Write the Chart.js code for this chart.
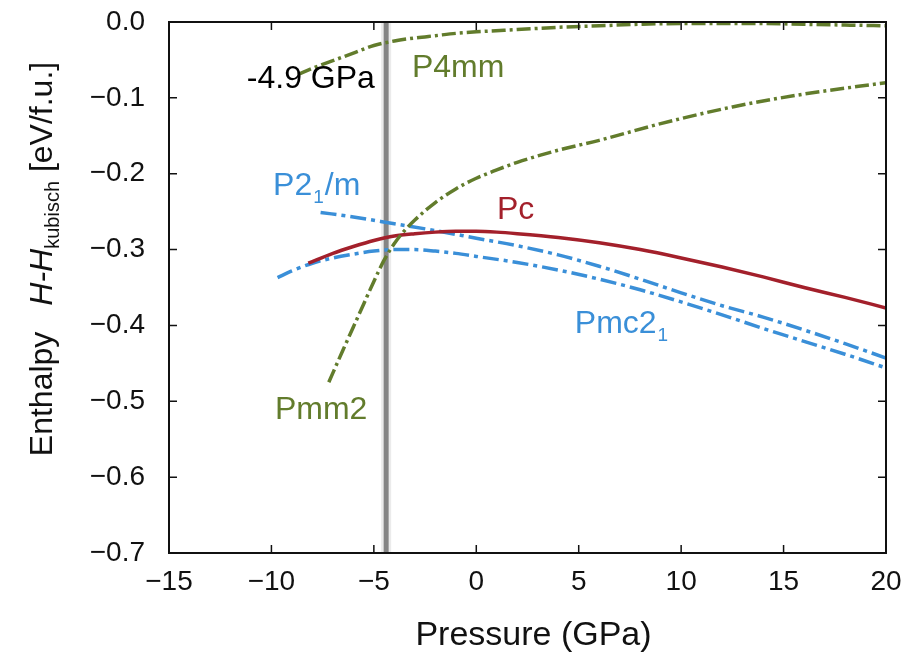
<!DOCTYPE html>
<html>
<head>
<meta charset="utf-8">
<script src="https://cdn.jsdelivr.net/npm/chart.js@4"></script>
<style>
  body { margin: 0; background: #fff; }
</style>
</head>
<body>
<canvas id="chart" width="920" height="655"></canvas>
<script>
// pressure (GPa) and enthalpy difference (eV/f.u.) per phase
const p4mmP = [-8.7, -8, -7, -6, -5, -4, -3, -2, -1, 0, 2, 4, 6, 8, 10, 12, 14, 16, 18, 20];
const p4mmH = [-0.069, -0.061, -0.051, -0.041, -0.031, -0.025, -0.021, -0.018, -0.015, -0.013, -0.010, -0.007, -0.005, -0.003, -0.002, -0.002, -0.002, -0.003, -0.004, -0.005];

const pmm2P = [-7.2, -6.5, -6, -5.5, -5, -4.5, -4, -3.5, -3, -2, -1, 0, 1, 2, 4, 6, 9, 12.5, 16, 20];
const pmm2H = [-0.475, -0.432, -0.402, -0.372, -0.342, -0.314, -0.292, -0.275, -0.261, -0.238, -0.220, -0.206, -0.195, -0.185, -0.169, -0.156, -0.134, -0.112, -0.095, -0.080];

const pcP = [-8.2, -7, -6, -5, -4, -3, -2, -1, 0, 1, 2, 4, 6, 8, 10, 12, 14, 16, 18, 20];
const pcH = [-0.318, -0.305, -0.296, -0.288, -0.282, -0.279, -0.277, -0.276, -0.276, -0.277, -0.279, -0.284, -0.291, -0.300, -0.311, -0.323, -0.336, -0.350, -0.363, -0.377];

const p21mP = [-7.6, -6, -4, -2, 0, 2, 4, 6, 8, 10, 12, 14, 16, 18, 20];
const p21mH = [-0.251, -0.257, -0.266, -0.275, -0.285, -0.295, -0.307, -0.322, -0.339, -0.357, -0.374, -0.389, -0.406, -0.424, -0.443];

const pmc21P = [-9.7, -9, -8, -7, -6, -5, -4, -3, -2, -1, 0, 2, 4, 6, 8, 10, 12, 14, 16, 18, 20];
const pmc21H = [-0.337, -0.328, -0.318, -0.311, -0.306, -0.302, -0.300, -0.300, -0.302, -0.305, -0.309, -0.317, -0.327, -0.339, -0.353, -0.369, -0.386, -0.404, -0.421, -0.438, -0.456];

const transitionP = -4.4;
const xTicks = [-15, -10, -5, 0, 5, 10, 15, 20];
const yTicks = [0, -0.1, -0.2, -0.3, -0.4, -0.5, -0.6, -0.7];

const GREEN = '#627c2c';
const BLUE = '#3a8fd8';
const RED = '#a3202b';

function pts(xs, ys) {
  return xs.map((x, i) => ({ x: x, y: ys[i] }));
}

function series(label, xs, ys, color, dash) {
  return {
    label: label,
    data: pts(xs, ys),
    borderColor: color,
    borderWidth: 3.5,
    borderDash: dash,
    pointRadius: 0,
    showLine: true,
    fill: false,
    cubicInterpolationMode: 'monotone'
  };
}

// text labels: [text, sub, after, x, y, color, align]
const labels = [
  ['-4.9 GPa', '', '', -4.95, -0.0868, '#000', 'right'],
  ['P4mm', '', '', -3.14, -0.0722, GREEN, 'left'],
  ['P2', '1', '/m', -9.92, -0.2285, BLUE, 'left'],
  ['Pc', '', '', 1.01, -0.2603, RED, 'left'],
  ['Pmc2', '1', '', 4.81, -0.410, BLUE, 'left'],
  ['Pmm2', '', '', -9.83, -0.524, GREEN, 'left']
];

const FONT = '"Liberation Sans", Arial, Helvetica, sans-serif';

const framePlugin = {
  id: 'frame',
  beforeDatasetsDraw(chart) {
    const ctx = chart.ctx;
    const a = chart.chartArea;
    const xs = chart.scales.x;
    const px = xs.getPixelForValue(transitionP);
    ctx.save();
    ctx.strokeStyle = 'rgba(0,0,0,0.08)';
    ctx.lineWidth = 10;
    ctx.beginPath();
    ctx.moveTo(px, a.top);
    ctx.lineTo(px, a.bottom);
    ctx.stroke();
    ctx.strokeStyle = '#858585';
    ctx.lineWidth = 5;
    ctx.beginPath();
    ctx.moveTo(px, a.top);
    ctx.lineTo(px, a.bottom);
    ctx.stroke();
    ctx.restore();
  },
  afterDatasetsDraw(chart) {
    const ctx = chart.ctx;
    const a = chart.chartArea;
    const xs = chart.scales.x;
    const ys = chart.scales.y;
    ctx.save();
    // frame
    ctx.strokeStyle = '#111';
    ctx.lineWidth = 2;
    ctx.strokeRect(a.left, a.top, a.right - a.left, a.bottom - a.top);
    // inward ticks on all sides
    ctx.lineWidth = 1.5;
    ctx.beginPath();
    xTicks.forEach(v => {
      const p = xs.getPixelForValue(v);
      ctx.moveTo(p, a.bottom); ctx.lineTo(p, a.bottom - 8);
      ctx.moveTo(p, a.top); ctx.lineTo(p, a.top + 8);
    });
    yTicks.forEach(v => {
      const p = ys.getPixelForValue(v);
      ctx.moveTo(a.left, p); ctx.lineTo(a.left + 8, p);
      ctx.moveTo(a.right, p); ctx.lineTo(a.right - 8, p);
    });
    ctx.stroke();

    // curve labels
    ctx.textBaseline = 'alphabetic';
    labels.forEach(l => {
      const [text, sub, after, x, y, color, align] = l;
      let px = xs.getPixelForValue(x);
      const py = ys.getPixelForValue(y);
      ctx.fillStyle = color;
      ctx.font = '32px ' + FONT;
      ctx.textAlign = align;
      ctx.fillText(text, px, py);
      if (sub) {
        ctx.textAlign = 'left';
        px += ctx.measureText(text).width;
        ctx.font = '19px ' + FONT;
        ctx.fillText(sub, px + 1, py + 8);
        px += ctx.measureText(sub).width + 2;
        ctx.font = '32px ' + FONT;
        if (after) ctx.fillText(after, px, py);
      }
    });

    // x title
    ctx.fillStyle = '#111';
    ctx.font = '34px ' + FONT;
    ctx.textAlign = 'center';
    ctx.fillText('Pressure (GPa)', (a.left + a.right) / 2 + 6, 645);

    // y title (rotated, italic H and subscript)
    ctx.translate(52, 259);
    ctx.rotate(-Math.PI / 2);
    const parts = [
      ['Enthalpy', '32px ' + FONT, 0, 0],
      ['', '32px ' + FONT, 0, 26],
      ['H-H', 'italic 32px ' + FONT, 0, 0],
      ['kubisch', '20px ' + FONT, 7, 0],
      [' [eV/f.u.]', '32px ' + FONT, 0, 0]
    ];
    let total = 0;
    parts.forEach(p => { ctx.font = p[1]; total += ctx.measureText(p[0]).width + p[3]; });
    let cx = -total / 2;
    ctx.textAlign = 'left';
    parts.forEach(p => {
      ctx.font = p[1];
      ctx.fillText(p[0], cx, p[2]);
      cx += ctx.measureText(p[0]).width + p[3];
    });
    ctx.restore();
  }
};

function minusFmt(v, digits) {
  const s = Math.abs(v).toFixed(digits);
  return (v < -1e-9 ? '\u2212' : '') + s;
}

new Chart(document.getElementById('chart'), {
  type: 'scatter',
  data: {
    datasets: [
      series('P4mm', p4mmP, p4mmH, GREEN, [14, 4, 3, 4]),
      series('Pmm2', pmm2P, pmm2H, GREEN, [14, 4, 3, 4]),
      series('Pc', pcP, pcH, RED, []),
      series('P21/m', p21mP, p21mH, BLUE, [16, 5, 4, 5]),
      series('Pmc21', pmc21P, pmc21H, BLUE, [16, 5, 4, 5])
    ]
  },
  options: {
    responsive: false,
    animation: false,
    layout: { autoPadding: false, padding: { top: 22, right: 34, left: 0, bottom: 0 } },
    plugins: {
      legend: { display: false },
      title: { display: false },
      tooltip: { enabled: false }
    },
    scales: {
      x: {
        type: 'linear',
        min: -15,
        max: 20,
        afterFit: s => { s.height = 102; s.paddingLeft = 0; s.paddingRight = 0; },
        afterBuildTicks: s => { s.ticks = xTicks.map(v => ({ value: v })); },
        grid: { display: false, drawTicks: false },
        border: { display: false },
        ticks: {
          padding: 12,
          color: '#111',
          font: { family: FONT, size: 28 },
          callback: v => minusFmt(v, 0)
        }
      },
      y: {
        type: 'linear',
        min: -0.7,
        max: 0,
        afterFit: s => { s.width = 169; s.paddingTop = 0; s.paddingBottom = 0; },
        afterBuildTicks: s => { s.ticks = yTicks.map(v => ({ value: v })); },
        grid: { display: false, drawTicks: false },
        border: { display: false },
        ticks: {
          padding: 24,
          color: '#111',
          font: { family: FONT, size: 28 },
          callback: v => minusFmt(v, 1)
        }
      }
    }
  },
  plugins: [framePlugin]
});
</script>
</body>
</html>
